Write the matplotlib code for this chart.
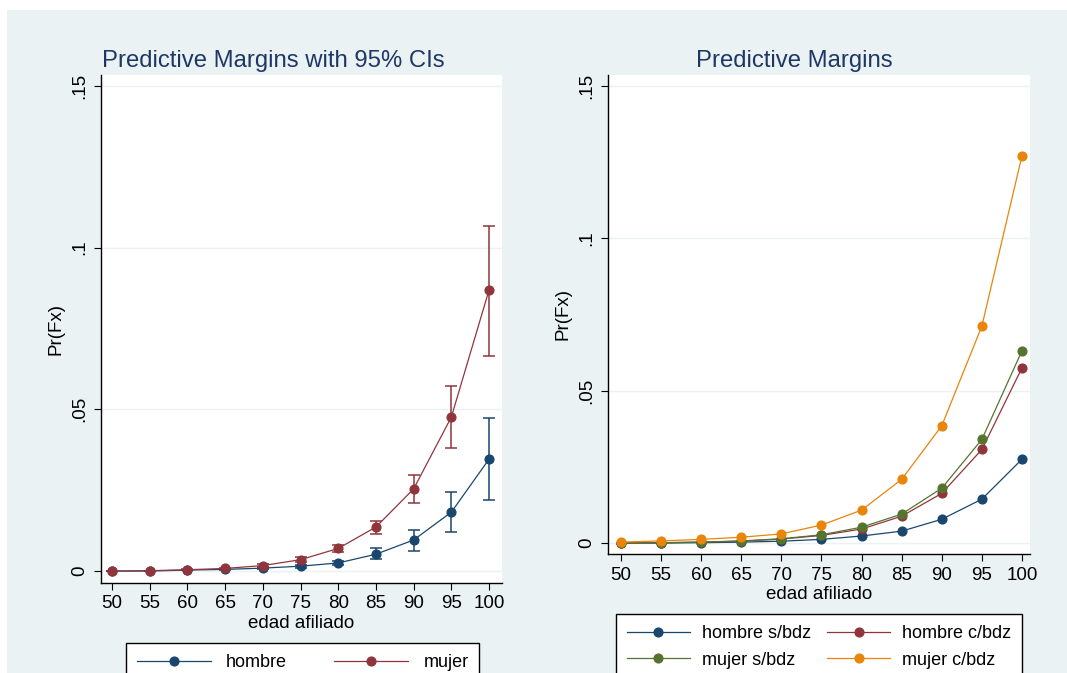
import numpy as np
import matplotlib
matplotlib.use("Agg")
import matplotlib.pyplot as plt
from matplotlib.patches import Rectangle

plt.rcParams['font.family'] = ['Liberation Sans', 'DejaVu Sans']

#### data
edad = [50, 55, 60, 65, 70, 75, 80, 85, 90, 95, 100]

## left panel: margins with 95% CIs
hombre = [0.0, 0.0, 0.0003, 0.0005, 0.0009, 0.0015, 0.0025, 0.0052, 0.0096, 0.0182, 0.0346]
hombre_lo = [0.0, 0.0, 0.0002, 0.0003, 0.0006, 0.0010, 0.0018, 0.0037, 0.0062, 0.0120, 0.0220]
hombre_hi = [0.0, 0.0, 0.0004, 0.0007, 0.0012, 0.0020, 0.0032, 0.0071, 0.0127, 0.0244, 0.0473]
mujer = [0.0, 0.0001, 0.0004, 0.0008, 0.0017, 0.0035, 0.0070, 0.0136, 0.0254, 0.0476, 0.0869]
mujer_lo = [0.0, 0.0001, 0.0003, 0.0006, 0.0013, 0.0028, 0.0058, 0.0114, 0.0210, 0.0380, 0.0665]
mujer_hi = [0.0, 0.0001, 0.0005, 0.0010, 0.0021, 0.0042, 0.0082, 0.0155, 0.0297, 0.0572, 0.1067]

## right panel: four groups
hombre_sbdz = [0.0, 0.0, 0.0001, 0.0003, 0.0006, 0.0012, 0.0023, 0.0039, 0.0078, 0.0144, 0.0275]
hombre_cbdz = [0.0, 0.0001, 0.0003, 0.0006, 0.0013, 0.0025, 0.0046, 0.0088, 0.0163, 0.0307, 0.0575]
mujer_sbdz = [0.0, 0.0001, 0.0003, 0.0007, 0.0014, 0.0027, 0.0052, 0.0095, 0.0180, 0.0340, 0.0631]
mujer_cbdz = [0.0003, 0.0007, 0.0012, 0.0019, 0.0030, 0.0059, 0.0108, 0.0209, 0.0385, 0.0712, 0.1271]

yticks = [0, 0.05, 0.1, 0.15]
ytick_labels = ["0", ".05", ".1", ".15"]

## stata s2color-ish palette
navy = "#1A476F"
maroon = "#90353B"
green = "#55752F"
orange = "#E8850A"
bg = "#EAF2F3"
title_col = "#1E3764"

W, H = 1067, 673
fig = plt.figure(figsize=(W / 100, H / 100), dpi=100)
fig.patch.set_facecolor("white")
## outer graph region (image is cropped a bit on top / left)
fig.patches.append(Rectangle((7 / W, 0), 1, 1 - 10 / H, transform=fig.transFigure,
                             facecolor=bg, edgecolor="none", zorder=-10))


def style_axes(ax, xlim, ylim, xlab_y):
    ax.set_facecolor("white")
    ax.set_xlim(*xlim)
    ax.set_ylim(*ylim)
    for s in ["top", "right"]:
        ax.spines[s].set_visible(False)
    for s in ["left", "bottom"]:
        ax.spines[s].set_color("black")
        ax.spines[s].set_linewidth(1.0)
    ax.set_yticks(yticks)
    ax.set_yticklabels(ytick_labels, rotation=90, va="center")
    ax.set_xticks(edad)
    ax.tick_params(axis="both", direction="out", length=5, width=0.8, labelsize=13.5, colors="black")
    ax.tick_params(axis="x", pad=4)
    ax.tick_params(axis="y", pad=4)
    ax.grid(axis="y", color=bg, linewidth=1.0)
    ax.set_axisbelow(True)
    ax.set_xlabel("edad afiliado", fontsize=13.5)
    ax.xaxis.set_label_coords(0.5, xlab_y)
    ax.set_ylabel("Pr(Fx)", fontsize=13.5, labelpad=5)


mk = dict(marker="o", markersize=6.3, linewidth=0.9)

#### left panel
ax1 = fig.add_axes([101 / W, 1 - 583 / H, 401 / W, 508 / H])
style_axes(ax1, (48.54, 101.72), (-0.0037, 0.1534), -(615 - 583) / 508)

h_err = [np.array(hombre) - np.array(hombre_lo), np.array(hombre_hi) - np.array(hombre)]
m_err = [np.array(mujer) - np.array(mujer_lo), np.array(mujer_hi) - np.array(mujer)]
ax1.errorbar(edad, hombre, yerr=h_err, fmt="none", ecolor=navy, elinewidth=1.1, capsize=4, capthick=1.1)
ax1.errorbar(edad, mujer, yerr=m_err, fmt="none", ecolor=maroon, elinewidth=1.1, capsize=4, capthick=1.1)
l1, = ax1.plot(edad, hombre, color=navy, label="hombre", **mk)
l2, = ax1.plot(edad, mujer, color=maroon, label="mujer", **mk)
fig.text(273 / W, 1 - 67 / H, "Predictive Margins with 95% CIs", fontsize=17.2, color=title_col,
         ha="center", va="baseline")

leg1 = fig.legend(handles=[l1, l2], loc="upper left", bbox_to_anchor=(126 / W, 1 - 643 / H),
                  ncol=2, fontsize=13, frameon=True, fancybox=False, edgecolor="black", framealpha=1,
                  handlelength=4.1, columnspacing=2.6, borderpad=0.6, handletextpad=0.85,
                  borderaxespad=0)
leg1.get_frame().set_linewidth(1.0)

#### right panel
ax2 = fig.add_axes([608 / W, 1 - 554 / H, 422 / W, 479 / H])
style_axes(ax2, (48.38, 101.0), (-0.0036, 0.1536), -(586 - 554) / 479)

r1, = ax2.plot(edad, hombre_sbdz, color=navy, label="hombre s/bdz", **mk)
r2, = ax2.plot(edad, hombre_cbdz, color=maroon, label="hombre c/bdz", **mk)
r3, = ax2.plot(edad, mujer_sbdz, color=green, label="mujer s/bdz", **mk)
r4, = ax2.plot(edad, mujer_cbdz, color=orange, label="mujer c/bdz", **mk)
fig.text(794 / W, 1 - 67 / H, "Predictive Margins", fontsize=17.2, color=title_col,
         ha="center", va="baseline")

leg2 = fig.legend(handles=[r1, r3, r2, r4], loc="upper left", bbox_to_anchor=(616 / W, 1 - 614 / H),
                  ncol=2, fontsize=13, frameon=True, fancybox=False, edgecolor="black", framealpha=1,
                  handlelength=3.5, columnspacing=0.9, borderpad=0.6, handletextpad=0.65,
                  labelspacing=0.55, borderaxespad=0)
leg2.get_frame().set_linewidth(1.0)

fig.savefig("out.png", dpi=100)
